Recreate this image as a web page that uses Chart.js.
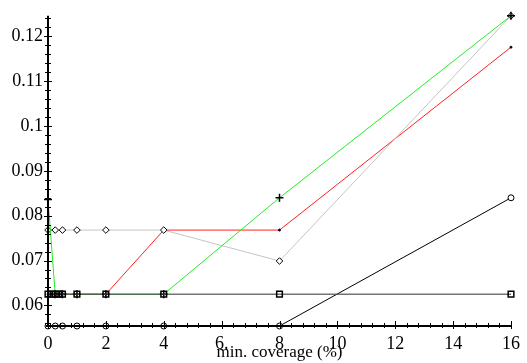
<!DOCTYPE html>
<html>
<head>
<meta charset="utf-8">
<script src="https://cdn.jsdelivr.net/npm/chart.js@4.4.0/dist/chart.umd.min.js"></script>
<style>
  html, body { margin: 0; padding: 0; background: #fff; }
  #wrap { width: 527px; height: 363px; position: relative; }
</style>
</head>
<body>
<div id="wrap"><canvas id="grafica"></canvas></div>
<script>
// x positions (min. coverage %)
const xFine = [0, 0.125, 0.25, 0.375, 0.5, 1, 2, 4, 8, 16];
const xCoarse = [0, 0.25, 0.5, 1, 2, 4, 8, 16];

// series values
const circleVals = [0.0554, 0.0554, 0.0554, 0.0554, 0.0554, 0.0554, 0.0554, 0.0840];
const squareVals = [0.0625, 0.0625, 0.0625, 0.0625, 0.0625, 0.0625, 0.0625, 0.0625, 0.0625, 0.0625];
const diamondVals = [0.0768, 0.0768, 0.0768, 0.0768, 0.0768, 0.0768, 0.0699, 0.1246];
const redVals = [0.0625, 0.0625, 0.0625, 0.0625, 0.0625, 0.0625, 0.0625, 0.0768, 0.0768, 0.1176];
const greenVals = [0.0836, 0.0625, 0.0625, 0.0625, 0.0625, 0.0625, 0.0840, 0.1246];

// ticks
const xTicks = [0, 2, 4, 6, 8, 10, 12, 14, 16];
const yTicks = [0.06, 0.07, 0.08, 0.09, 0.1, 0.11, 0.12];
const yMin = 0.0554;
const yMax = 0.1246;

const toPts = (xs, ys) => xs.map((x, i) => ({ x, y: ys[i] }));
const serif = '"Liberation Serif", "DejaVu Serif", serif';

// axes crossing style with major and minor ticks (Maple look)
const axesPlugin = {
  id: 'axesPlugin',
  afterDatasetsDraw(chart) {
    const { ctx, chartArea: a, scales: { x, y } } = chart;
    ctx.save();
    ctx.strokeStyle = '#000';
    ctx.lineWidth = 2;
    ctx.beginPath();
    ctx.moveTo(a.left - 2, a.bottom);
    ctx.lineTo(a.right, a.bottom);
    ctx.moveTo(a.left, a.top);
    ctx.lineTo(a.left, a.bottom);
    ctx.stroke();
    ctx.lineWidth = 1;
    ctx.beginPath();
    for (let v = 0; v <= 16.001; v += 0.4) {
      const px = Math.round(x.getPixelForValue(v)) + 0.5;
      const major = Math.abs(v / 2 - Math.round(v / 2)) < 0.01;
      ctx.moveTo(px, a.bottom - (major ? 5 : 3));
      ctx.lineTo(px, a.bottom + (major ? 3 : 2));
    }
    for (let v = 0.056; v <= yMax + 0.0001; v += 0.002) {
      const py = Math.round(y.getPixelForValue(v)) + 0.5;
      const major = Math.abs(v * 100 - Math.round(v * 100)) < 0.01;
      ctx.moveTo(a.left - (major ? 4 : 3), py);
      ctx.lineTo(a.left + (major ? 4 : 3), py);
    }
    ctx.stroke();
    ctx.restore();
  },
};

const datasets = [
  {
    label: 'circles',
    data: toPts(xCoarse, circleVals),
    borderColor: '#000',
    borderWidth: 1,
    pointStyle: 'circle',
    pointRadius: 3,
    pointBackgroundColor: '#fff',
    pointBorderColor: '#000',
    order: 2,
  },
  {
    label: 'diamonds',
    data: toPts(xCoarse, diamondVals),
    borderColor: '#c4c4c4',
    borderWidth: 1,
    pointStyle: 'rectRot',
    pointRadius: 3.3,
    pointBackgroundColor: '#fff',
    pointBorderColor: '#000',
    order: 4,
  },
  {
    label: 'red',
    data: toPts(xFine, redVals),
    borderColor: '#ff2020',
    borderWidth: 1,
    pointStyle: 'circle',
    pointRadius: 1,
    pointBackgroundColor: '#000',
    pointBorderColor: '#000',
    order: 5,
  },
  {
    label: 'green',
    data: toPts(xCoarse, greenVals),
    borderColor: '#22ee22',
    borderWidth: 1,
    pointStyle: 'cross',
    pointRadius: 4,
    pointBorderWidth: 1.5,
    pointBorderColor: '#000',
    order: 3,
  },
  {
    label: 'squares',
    data: toPts(xFine, squareVals),
    borderColor: 'rgba(70,70,70,0.75)',
    borderWidth: 1.5,
    pointStyle: 'rect',
    pointRadius: 4,
    pointBackgroundColor: 'rgba(255,255,255,0)',
    pointBorderColor: '#000',
    order: 1,
  },
];

// eslint-disable-next-line no-new, no-undef
new Chart(document.querySelector('#grafica'), {
  type: 'line',
  data: { datasets },
  options: {
    responsive: true,
    maintainAspectRatio: false,
    animation: false,
    devicePixelRatio: 1,
    layout: { padding: { top: 12, right: 11, left: 0, bottom: 0 } },
    datasets: { line: { clip: false, tension: 0, fill: false } },
    plugins: { legend: { display: false }, tooltip: { enabled: false } },
    scales: {
      x: {
        type: 'linear',
        min: 0,
        max: 16,
        grid: { display: false, drawTicks: false },
        border: { display: false },
        afterBuildTicks: (scale) => { scale.ticks = xTicks.map((value) => ({ value })); },
        afterFit: (scale) => { scale.height = 37; },
        ticks: {
          color: '#000',
          padding: 7,
          maxRotation: 0,
          autoSkip: false,
          font: { family: serif, size: 18 },
          callback: (v) => (v === 6 ? '6.' : String(v)),
        },
        title: {
          display: true,
          text: 'min. coverage (%)',
          color: '#000',
          padding: 0,
          font: { family: serif, size: 17 },
        },
      },
      y: {
        type: 'linear',
        min: yMin,
        max: yMax,
        grid: { display: false, drawTicks: false },
        border: { display: false },
        afterBuildTicks: (scale) => { scale.ticks = yTicks.map((value) => ({ value })); },
        afterFit: (scale) => { scale.width = 48; },
        ticks: {
          color: '#000',
          padding: 5,
          autoSkip: false,
          font: { family: serif, size: 18 },
          callback: (v) => String(Number(v.toFixed(2))),
        },
      },
    },
  },
  plugins: [axesPlugin],
});
</script>
</body>
</html>
